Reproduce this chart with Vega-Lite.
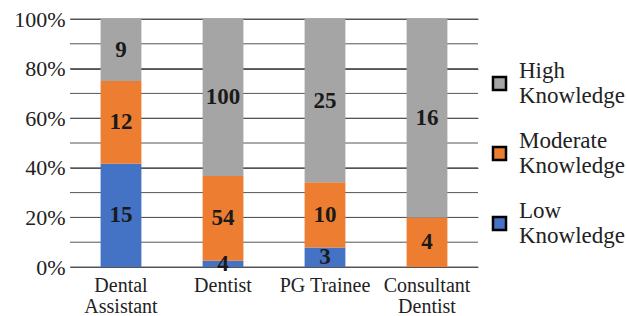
{
  "$schema": "https://vega.github.io/schema/vega-lite/v6.json",
  "width": 408,
  "height": 248,
  "autosize": "none",
  "padding": {"left": 70, "top": 19, "right": 149, "bottom": 49},
  "background": "white",
  "datasets": {
    "bars": [
      {"role": "Dental Assistant", "level": "Low Knowledge", "count": 15},
      {"role": "Dental Assistant", "level": "Moderate Knowledge", "count": 12},
      {"role": "Dental Assistant", "level": "High Knowledge", "count": 9},
      {"role": "Dentist", "level": "Low Knowledge", "count": 4},
      {"role": "Dentist", "level": "Moderate Knowledge", "count": 54},
      {"role": "Dentist", "level": "High Knowledge", "count": 100},
      {"role": "PG Trainee", "level": "Low Knowledge", "count": 3},
      {"role": "PG Trainee", "level": "Moderate Knowledge", "count": 10},
      {"role": "PG Trainee", "level": "High Knowledge", "count": 25},
      {"role": "Consultant Dentist", "level": "Moderate Knowledge", "count": 4},
      {"role": "Consultant Dentist", "level": "High Knowledge", "count": 16}
    ],
    "grid": [
      {"t": 0}, {"t": 0.1}, {"t": 0.2}, {"t": 0.3}, {"t": 0.4}, {"t": 0.5},
      {"t": 0.6}, {"t": 0.7}, {"t": 0.8}, {"t": 0.9}, {"t": 1}
    ]
  },
  "layer": [
    {
      "data": {"name": "grid"},
      "mark": {"type": "rule", "color": "#555555", "strokeWidth": 1},
      "encoding": {
        "y": {"field": "t", "type": "quantitative", "axis": null}
      }
    },
    {
      "data": {"name": "bars"},
      "transform": [
        {"calculate": "indexof(['Low Knowledge','Moderate Knowledge','High Knowledge'], datum.level)", "as": "rank"},
        {"stack": "count", "groupby": ["role"], "sort": [{"field": "rank", "order": "ascending"}], "offset": "normalize", "as": ["y0", "y1"]},
        {"calculate": "(datum.y0 + datum.y1) / 2", "as": "ymid"}
      ],
      "encoding": {
        "x": {
          "field": "role", "type": "nominal",
          "sort": ["Dental Assistant", "Dentist", "PG Trainee", "Consultant Dentist"],
          "scale": {"paddingInner": 0.6, "paddingOuter": 0.3},
          "axis": {
            "title": null, "labelAngle": 0, "domain": false, "ticks": false,
            "labelPadding": 8, "labelLineHeight": 21, "labelBaseline": "top",
            "labelExpr": "datum.label == 'Dentist' || datum.label == 'PG Trainee' ? datum.label : split(datum.label, ' ')"
          }
        }
      },
      "layer": [
        {
          "mark": {"type": "bar"},
          "encoding": {
            "y": {
              "field": "y0", "type": "quantitative",
              "scale": {"domain": [0, 1], "nice": false},
              "axis": {
                "title": null, "format": ".0%",
                "values": [0, 0.1, 0.2, 0.3, 0.4, 0.5, 0.6, 0.7, 0.8, 0.9, 1],
                "tickCount": 10,
                "labelOverlap": false, "domain": false, "ticks": false, "grid": true,
                "gridColor": "#555555", "gridWidth": 1,
                "labelFont": "Liberation Serif", "labelFontSize": 22, "labelColor": "#222222", "labelPadding": 5
              }
            },
            "y2": {"field": "y1"},
            "color": {
              "field": "level", "type": "nominal",
              "scale": {"domain": ["High Knowledge", "Moderate Knowledge", "Low Knowledge"], "range": ["#A5A5A5", "#ED7D31", "#4472C4"]},
              "legend": {
                "title": null, "orient": "none", "legendX": 418, "legendY": 53,
                "symbolType": "square", "symbolSize": 170, "symbolStrokeColor": "black", "symbolStrokeWidth": 2.5,
                "labelFont": "Liberation Serif", "labelFontSize": 23, "labelColor": "#222222", "labelLimit": 220,
                "labelOffset": 8, "rowPadding": 21, "labelBaseline": "line-bottom",
                "labelExpr": "split(datum.label, ' ')"
              }
            }
          }
        },
        {
          "mark": {"type": "text", "font": "Liberation Serif", "fontWeight": "bold", "fontSize": 23, "color": "#1a1a1a", "baseline": "middle"},
          "encoding": {
            "y": {"field": "ymid", "type": "quantitative", "axis": null},
            "text": {"field": "count", "type": "quantitative"}
          }
        }
      ],
      "resolve": {"scale": {"y": "shared"}, "axis": {"y": "independent"}}
    }
  ],
  "resolve": {"scale": {"y": "shared"}, "axis": {"y": "independent"}},
  "config": {
    "view": {"stroke": null},
    "axisX": {"labelFont": "Liberation Serif", "labelFontSize": 20, "labelColor": "#222222"},
    "axisY": {"tickCount": 10, "labelOverlap": false}
  }
}
